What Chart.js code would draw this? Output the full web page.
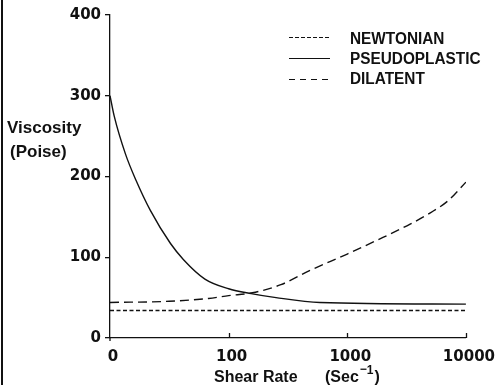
<!DOCTYPE html>
<html><head><meta charset="utf-8">
<script src="https://cdn.jsdelivr.net/npm/chart.js@4/dist/chart.umd.min.js"></script>
<style>html,body{margin:0;padding:0;background:#fff;overflow:hidden}#wrap{width:502px;height:385px;position:relative}</style>
</head><body><div id="wrap"><canvas id="c" width="502" height="385"></canvas></div>
<script>
// x positions are in axis units: 0 -> "0", 1 -> "100", 2 -> "1000", 3 -> "10000"
const xTickLabels = ['0', '100', '1000', '10000'];
const seriesNames = ['NEWTONIAN', 'PSEUDOPLASTIC', 'DILATENT'];

const newtonianX = [0, 3];
const newtonianY = [34, 34];

const pseudoX = [0, 0.035, 0.13, 0.22, 0.34, 0.51, 0.62, 0.8, 1.0, 1.19, 1.4, 1.77, 3.0];
const pseudoY = [300, 275, 228, 195, 158, 117, 97, 73, 61, 55, 50, 44, 42];

const dilatentX = [0, 0.5, 0.83, 1.0, 1.2, 1.44, 1.69, 2.0, 2.25, 2.53, 2.7, 2.85, 3.0];
const dilatentY = [44, 45.5, 49, 52.5, 56, 66, 84, 104, 121, 141, 155, 170, 193];

const INK = '#111';
const pts = (xs, ys) => xs.map((x, i) => ({x, y: ys[i]}));

const dashes = [[4, 2.5], [], [9, 5]];
const legendDashes = [[4, 2], [], [6, 5]];

const extras = {
  id: 'extras',
  afterDraw(chart) {
    const ctx = chart.ctx;
    const xs = chart.scales.x;
    const ca = chart.chartArea;
    ctx.save();
    ctx.strokeStyle = INK; ctx.fillStyle = INK; ctx.lineWidth = 1.3;
    // inward x ticks
    for (let i = 1; i < xTickLabels.length; i++) {
      const px = Math.round(xs.getPixelForValue(i)) + 0.5;
      ctx.beginPath(); ctx.moveTo(px, ca.bottom); ctx.lineTo(px, ca.bottom - 5); ctx.stroke();
    }
    // y axis extends a bit below origin
    const ox = xs.getPixelForValue(0);
    ctx.beginPath(); ctx.moveTo(ox, ca.bottom); ctx.lineTo(ox, ca.bottom + 3); ctx.stroke();
    // left frame line
    ctx.fillRect(1, 0, 2, 385);
    // y title
    ctx.font = 'bold 17px "Liberation Sans", Arial, sans-serif';
    ctx.textAlign = 'left'; ctx.textBaseline = 'alphabetic';
    ctx.fillText('Viscosity', 7, 133);
    ctx.fillText('(Poise)', 10, 157);
    // x title
    const f1 = 'bold 16px "Liberation Sans", Arial, sans-serif';
    const f2 = 'bold 12px "Liberation Sans", Arial, sans-serif';
    ctx.font = f1;
    ctx.fillText('Shear Rate', 214, 382);
    ctx.fillText('(Sec', 325, 382);
    let x = 325 + ctx.measureText('(Sec').width + 1;
    ctx.font = f2;
    ctx.fillText('\u2212', x, 373);
    x += ctx.measureText('\u2212').width;
    ctx.fillText('1', x, 374);
    x += ctx.measureText('1').width + 1;
    ctx.font = f1;
    ctx.fillText(')', x, 382);
    // legend
    ctx.font = 'bold 16px "Liberation Sans", Arial, sans-serif';
    const lineYs = [37, 58, 79];
    const textYs = [43.5, 63.5, 83.5];
    seriesNames.forEach((name, i) => {
      ctx.setLineDash(legendDashes[i]);
      ctx.lineWidth = 1.2;
      ctx.beginPath(); ctx.moveTo(289, lineYs[i] + 0.5); ctx.lineTo(330, lineYs[i] + 0.5); ctx.stroke();
      ctx.setLineDash([]);
      ctx.save();
      ctx.translate(350, textYs[i]); ctx.scale(0.96, 1);
      ctx.fillText(name, 0, 0);
      ctx.restore();
    });
    ctx.restore();
  }
};

new Chart(document.getElementById('c'), {
  type: 'line',
  data: {
    datasets: [
      {label: seriesNames[0], data: pts(newtonianX, newtonianY)},
      {label: seriesNames[1], data: pts(pseudoX, pseudoY)},
      {label: seriesNames[2], data: pts(dilatentX, dilatentY)}
    ].map((d, i) => Object.assign(d, {
      borderColor: INK, borderWidth: 1.4, borderDash: dashes[i],
      pointRadius: 0, fill: false, cubicInterpolationMode: 'monotone'
    }))
  },
  options: {
    responsive: false, devicePixelRatio: 1, animation: false,
    layout: {padding: {left: 0, right: 33, top: 15, bottom: 0}},
    plugins: {legend: {display: false}, tooltip: {enabled: false}},
    scales: {
      x: {
        type: 'linear', min: 0, max: 3,
        afterFit: s => { s.height = 47; },
        ticks: {stepSize: 1, color: INK, padding: 10, labelOffset: 3,
          font: {family: '"DejaVu Sans"', weight: 'bold', size: 15},
          callback: v => xTickLabels[v] ?? ''},
        grid: {display: true, drawOnChartArea: false, drawTicks: false},
        border: {display: true, color: INK, width: 1.3}
      },
      y: {
        min: 0, max: 400,
        afterFit: s => { s.width = 110; },
        ticks: {stepSize: 100, color: INK, padding: 4,
          font: {family: '"DejaVu Sans"', weight: 'bold', size: 15}},
        grid: {display: true, drawOnChartArea: false, drawTicks: true, tickLength: 5, color: INK, lineWidth: 1.3},
        border: {display: true, color: INK, width: 1.3}
      }
    }
  },
  plugins: [extras]
});
</script></body></html>
